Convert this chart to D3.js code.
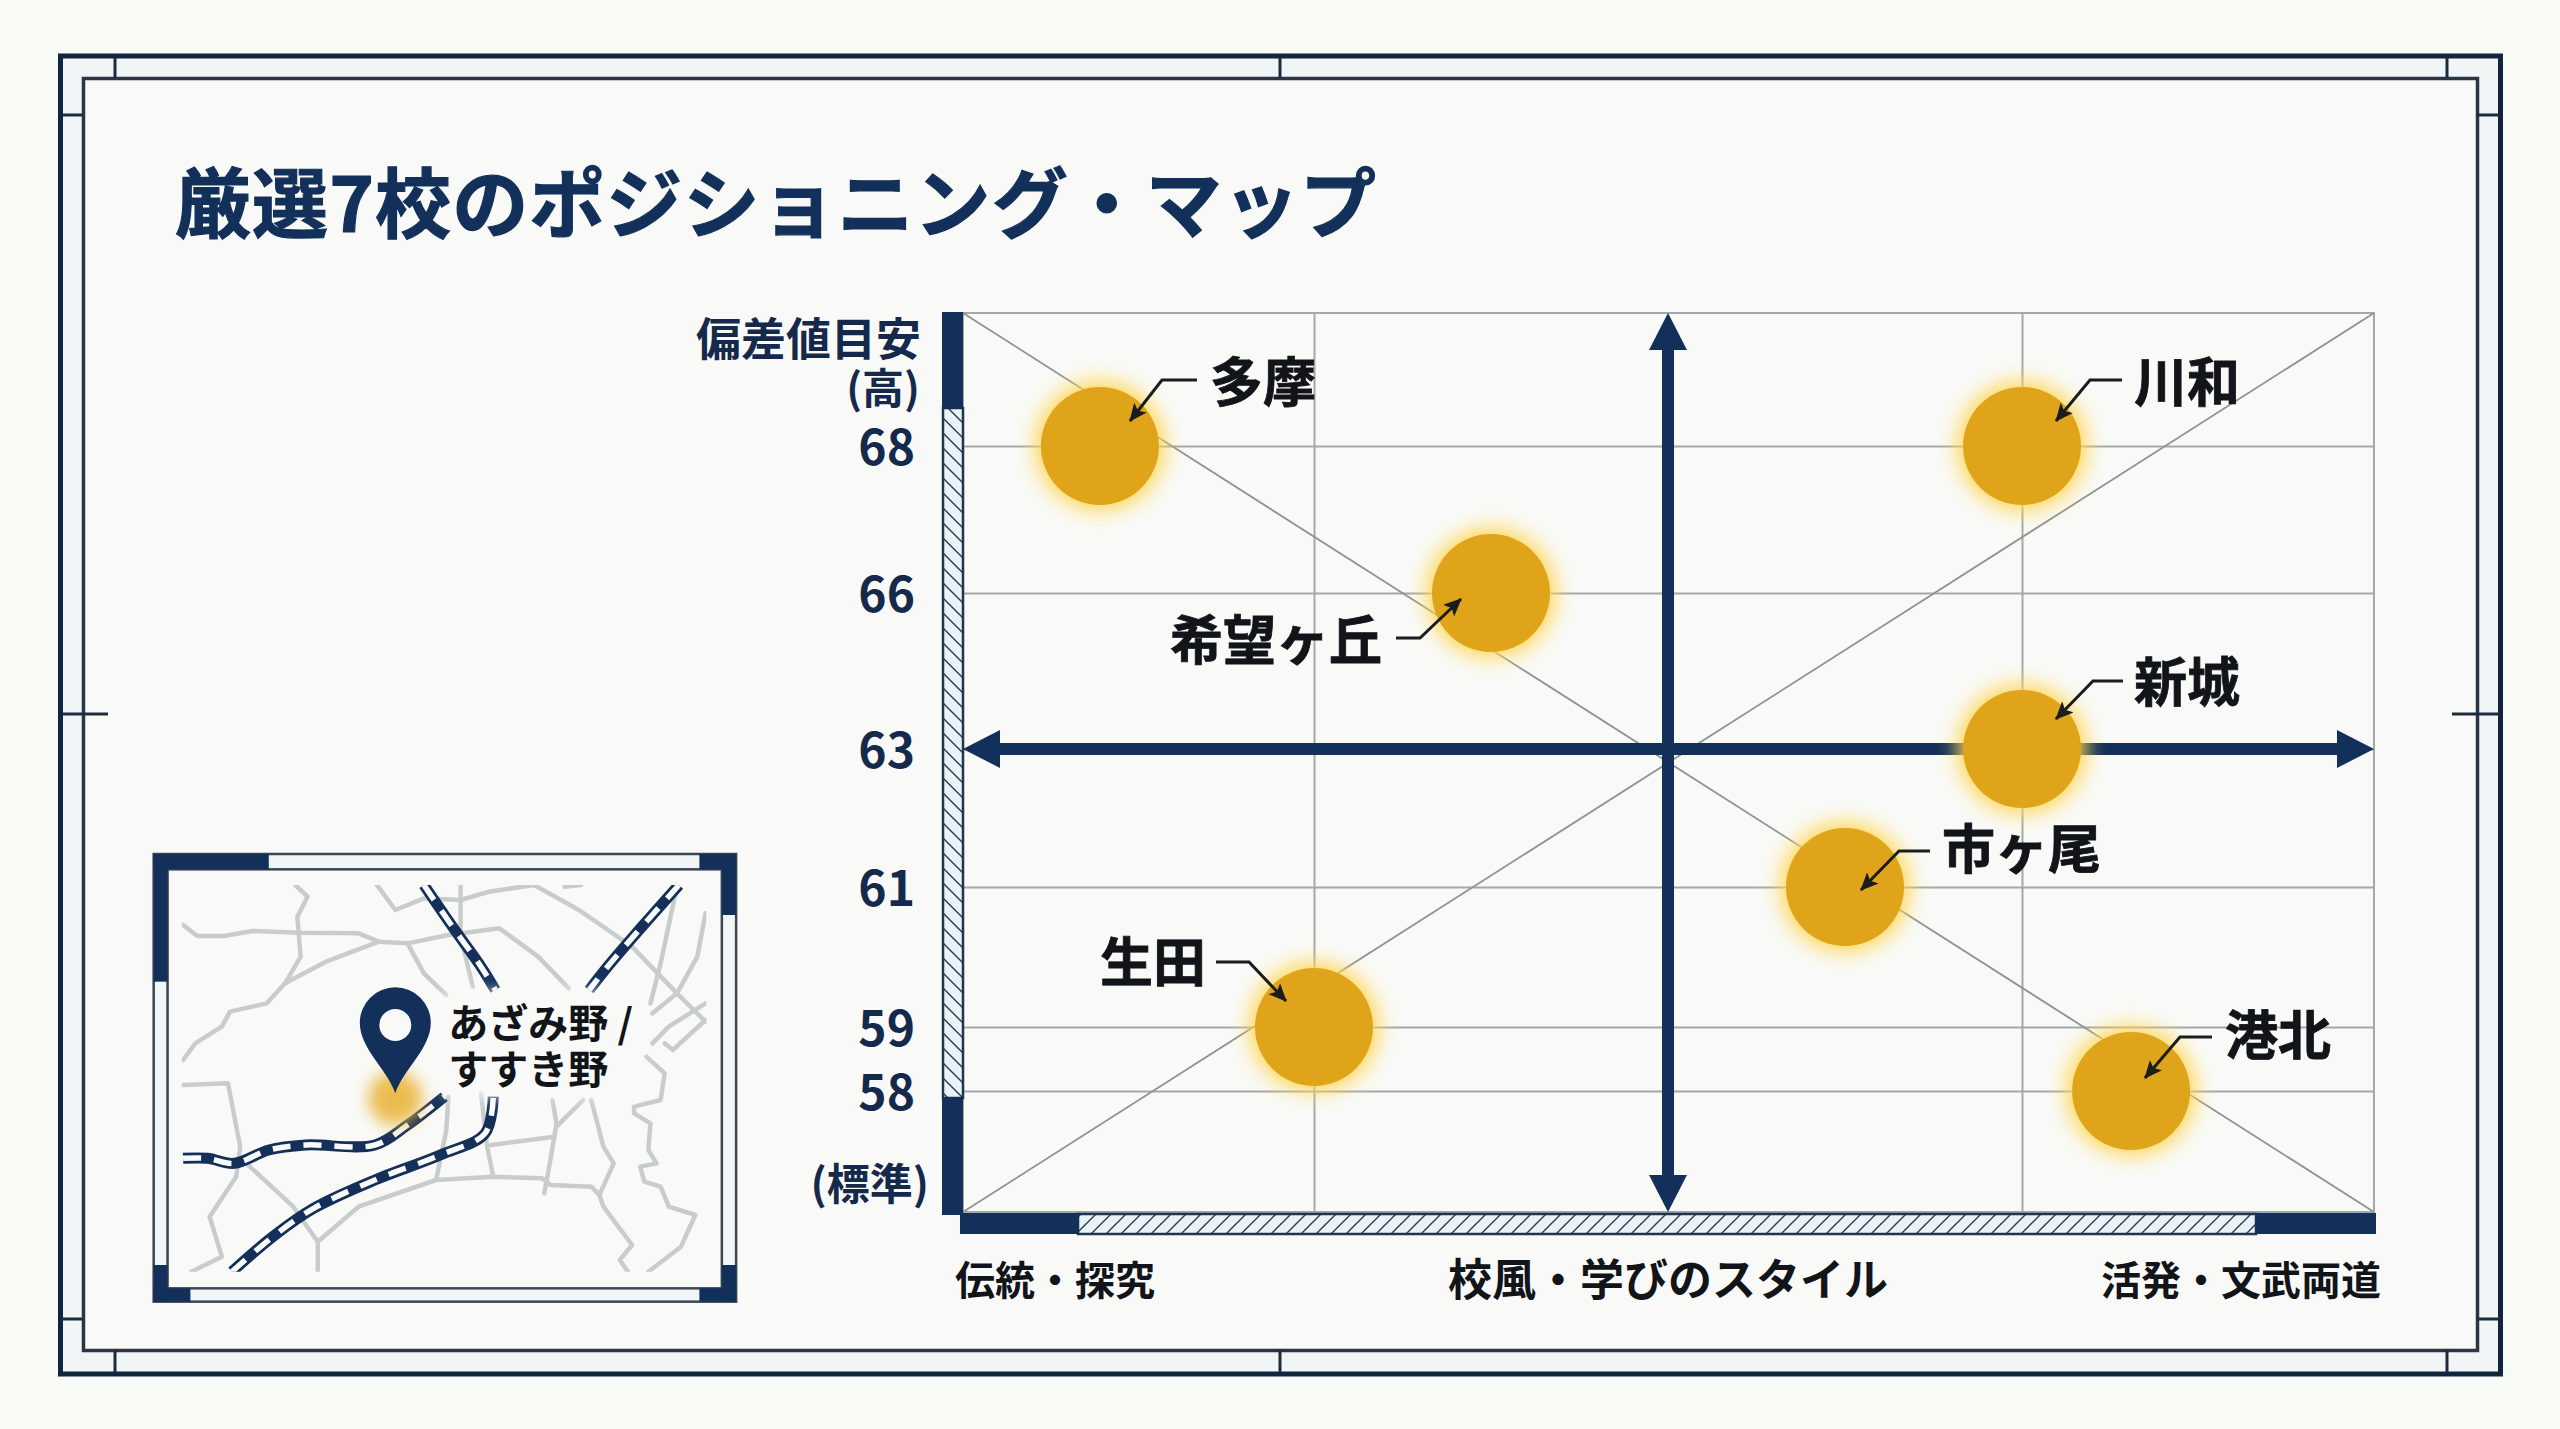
<!DOCTYPE html>
<html lang="ja">
<head>
<meta charset="utf-8">
<script src="https://cdnjs.cloudflare.com/ajax/libs/d3/7.8.5/d3.min.js"></script>
<style>
html,body{margin:0;padding:0;background:#f8faf6;}
svg{display:block;}
text{font-family:"Noto Sans CJK JP","Noto Sans",sans-serif;}
</style>
</head>
<body>
<svg id="c" width="2560" height="1429"></svg>
<script>
// ---- data ----
const titleText = "厳選7校のポジショニング・マップ";
const schools = ["多摩","希望ヶ丘","川和","新城","市ヶ尾","生田","港北"];
const styleValues = [-3.22,-1,2,2,1,-2,2.62];
const devValues = [68,66,68,63,61,59,58];
const yTicks = [68,66,63,61,59,58];
const yTickPixels = [446,593,749,887,1027,1091];
const xStops = [-4,-2,0,2,4];
const xStopPixels = [963,1314,1668,2022,2374];
const xGridValues = [-2,2];
const xLabels = ["伝統・探究","校風・学びのスタイル","活発・文武両道"];
const yLabels = ["偏差値目安","(高)","(標準)"];
const mapLabels = ["あざみ野 /","すすき野"];

// label placement per school (annotation layout)
const labelX = [1210,1382,2134,2134,1942,1206,2225];
const labelAnchor = ["start","end","start","start","start","end","start"];
const labelY = [379,637,379,679,846,959,1032];
const leaderPts = [
 [[1197,380],[1162,380],[1130,421]],
 [[1396,638],[1420,638],[1461,599]],
 [[2122,380],[2090,380],[2056,421]],
 [[2123,681],[2093,681],[2056,719]],
 [[1930,851],[1899,851],[1861,890]],
 [[1216,962],[1249,962],[1286,1001]],
 [[2212,1037],[2180,1037],[2145,1078]]
];

// map decoration, in map units
const roads = [
 [[130,285],[165,318],[230,318],[300,303],[415,308],[560,310],[610,335],[680,340],[780,315],[905,295],[1000,380],[1075,475]],
 [[405,165],[435,200],[410,260],[418,380],[380,460],[335,520],[245,545],[225,590],[160,640],[130,690]],
 [[380,460],[480,395],[610,335]],
 [[680,340],[720,430],[775,495]],
 [[605,165],[650,240],[720,205],[810,210],[880,185],[990,165]],
 [[810,165],[810,320],[840,470]],
 [[990,165],[1100,240],[1230,350],[1340,490],[1410,575]],
 [[1340,170],[1300,400],[1275,520]],
 [[1410,250],[1390,380],[1340,490],[1280,550]],
 [[1410,520],[1320,590],[1280,640]],
 [[1410,570],[1330,660],[1310,640]],
 [[1065,170],[1105,165]],
 [[1265,680],[1310,730],[1300,810],[1235,830],[1235,850],[1275,880],[1270,960],[1290,1000],[1250,1010],[1260,1055],[1300,1070],[1320,1130],[1385,1155],[1350,1250],[1270,1325]],
 [[130,765],[240,760],[270,950],[260,1040],[195,1160],[225,1280],[150,1325]],
 [[285,1000],[400,1130],[460,1235],[460,1325]],
 [[460,1235],[560,1130],[750,1050],[890,1040],[1010,1045],[1030,1065],[1130,1070],[1150,1095],[1160,1130],[1230,1245],[1200,1290],[1220,1325]],
 [[780,800],[775,900],[750,1050]],
 [[860,790],[875,950],[890,1040]],
 [[885,945],[1040,920]],
 [[1035,810],[1045,880],[1030,990],[1015,1090]],
 [[1110,810],[1045,890]],
 [[1130,810],[1160,950],[1185,1000],[1150,1095]]
];
const rails = [
 [[720,165],[790,290],[860,410],[895,480]],
 [[1345,165],[1240,310],[1170,410],[1125,480]],
 [[130,985],[190,985],[255,1000],[340,960],[430,945],[600,945],[680,885],[770,800]],
 [[250,1325],[350,1220],[450,1135],[600,1050],[760,975],[870,910],[890,800]]
];

// ---- constants ----
const NAVY="#12305a", INK="#111418", GRID="#a3a8aa", BG="#f9faf7", BAND="#f1f5f6";
const P={l:963,r:2374,t:313,b:1212};
const svg=d3.select("#c");
const x=d3.scaleLinear().domain(xStops).range(xStopPixels);
const y=d3.scaleLinear().domain(yTicks).range(yTickPixels);
const mx=d3.scaleLinear().domain([0,1568]).range([130,770]);
const my=d3.scaleLinear().domain([0,1470]).range([830,1320]);

// ---- defs ----
const defs=svg.append("defs");
function hatch(id,path){
  const p=defs.append("pattern").attr("id",id).attr("patternUnits","userSpaceOnUse").attr("width",15).attr("height",15);
  p.append("rect").attr("width",15).attr("height",15).attr("fill","#e9f2f6");
  p.append("path").attr("d",path).attr("stroke","#2a3a4c").attr("stroke-width",1.4).attr("fill","none");
}
hatch("hl","M-2,-2L17,17M-2,13L2,17M13,-2L17,2");
hatch("hb","M-2,17L17,-2M-2,2L2,-2M13,17L17,13");
const f=defs.append("filter").attr("id","glow").attr("x","-50%").attr("y","-50%").attr("width","200%").attr("height","200%");
f.append("feGaussianBlur").attr("stdDeviation",10);
const f2=defs.append("filter").attr("id","soft").attr("x","-30%").attr("y","-30%").attr("width","160%").attr("height","160%");
f2.append("feGaussianBlur").attr("stdDeviation",8);
const f3=defs.append("filter").attr("id","soft2").attr("x","-60%").attr("y","-60%").attr("width","220%").attr("height","220%");
f3.append("feGaussianBlur").attr("stdDeviation",8);
defs.append("marker").attr("id","arr").attr("markerUnits","userSpaceOnUse").attr("markerWidth",24).attr("markerHeight",20)
  .attr("refX",17).attr("refY",8).attr("orient","auto")
  .append("path").attr("d","M0,0L18,8L0,16L4,8Z").attr("fill","#1a1c1e");
defs.append("clipPath").attr("id","mapclip").append("rect")
  .attr("x",mx(127)).attr("y",my(165)).attr("width",mx(1412)-mx(127)).attr("height",my(1325)-my(165));

// ---- background and frame ----
svg.append("rect").attr("width",2560).attr("height",1429).attr("fill","#f8faf6");
svg.append("rect").attr("x",60.5).attr("y",56).attr("width",2440).attr("height",1318)
  .attr("fill",BAND).attr("stroke","#10253f").attr("stroke-width",5);
svg.append("rect").attr("x",83.5).attr("y",78.5).attr("width",2394).attr("height",1272)
  .attr("fill",BG).attr("stroke","#2a3644").attr("stroke-width",3.5);
const frameTicks=[
 [115,58,115,78],[2447,58,2447,78],[115,1350,115,1373],[2447,1350,2447,1373],
 [62,115,83,115],[2477,115,2499,115],[62,1319,83,1319],[2477,1319,2499,1319],
 [1280,58,1280,78],[1280,1350,1280,1373],[62,714,108,714],[2452,714,2499,714]
];
svg.append("g").selectAll("line").data(frameTicks).join("line")
  .attr("x1",d=>d[0]).attr("y1",d=>d[1]).attr("x2",d=>d[2]).attr("y2",d=>d[3])
  .attr("stroke","#1c2c3e").attr("stroke-width",3);

// ---- title ----
svg.append("text").attr("x",175).attr("y",232).attr("font-size",76).attr("font-weight",700)
  .attr("fill",NAVY).attr("stroke",NAVY).attr("stroke-width",1.2)
  .attr("textLength",1201).attr("lengthAdjust","spacing").text(titleText);

// ---- grid and axes ----
const yAxis=d3.axisLeft(y).tickValues(yTicks).tickSize(-(P.r-P.l)).tickPadding(48).tickFormat(d3.format("d"));
const gy=svg.append("g").attr("transform",`translate(${P.l},0)`).call(yAxis);
gy.select(".domain").remove();
gy.selectAll("line").attr("stroke",GRID).attr("stroke-width",2);
gy.selectAll("text").attr("font-size",48).attr("font-weight",700).attr("fill","#14294b").attr("dy","0.385em")
  .style("font-family",'"Noto Sans CJK JP"');
const xAxis=d3.axisBottom(x).tickValues(xGridValues).tickSize(-(P.b-P.t)).tickFormat("");
const gx=svg.append("g").attr("transform",`translate(0,${P.b})`).call(xAxis);
gx.select(".domain").remove();
gx.selectAll("line").attr("stroke",GRID).attr("stroke-width",2);
svg.append("rect").attr("x",P.l).attr("y",P.t).attr("width",P.r-P.l).attr("height",P.b-P.t)
  .attr("fill","none").attr("stroke",GRID).attr("stroke-width",2);
svg.append("g").selectAll("line").data([[P.l,P.t,P.r,P.b],[P.l,P.b,P.r,P.t]]).join("line")
  .attr("x1",d=>d[0]).attr("y1",d=>d[1]).attr("x2",d=>d[2]).attr("y2",d=>d[3])
  .attr("stroke","#8d9294").attr("stroke-width",1.8);

// ---- side bars ----
function bar(xx,yy,w,h,fill){
  svg.append("rect").attr("x",xx).attr("y",yy).attr("width",w).attr("height",h).attr("fill",fill)
    .attr("stroke",fill===NAVY?"none":"#1f3550").attr("stroke-width",fill===NAVY?0:2.5);
}
bar(943,408,20,690,"url(#hl)");
bar(942,312,21,97,NAVY);
bar(942,1097,21,118,NAVY);
bar(1078,1214,1178,20,"url(#hb)");
bar(960,1213,119,21,NAVY);
bar(2256,1213,120,21,NAVY);

// ---- quadrant arrows ----
const cx=x(0), cy=y(63), AH=37, AW=19;
const arrowLine=svg.append("g");
arrowLine.append("line").attr("x1",P.l+20).attr("x2",P.r-20).attr("y1",cy).attr("y2",cy).attr("stroke",NAVY).attr("stroke-width",12);
arrowLine.append("line").attr("x1",cx).attr("x2",cx).attr("y1",P.t+20).attr("y2",P.b-20).attr("stroke",NAVY).attr("stroke-width",12);
const heads=[
 [[P.l,cy],[P.l+AH,cy-AW],[P.l+AH,cy+AW]],
 [[P.r,cy],[P.r-AH,cy-AW],[P.r-AH,cy+AW]],
 [[cx,P.t],[cx-AW,P.t+AH],[cx+AW,P.t+AH]],
 [[cx,P.b],[cx-AW,P.b-AH],[cx+AW,P.b-AH]]
];
arrowLine.selectAll("path").data(heads).join("path")
  .attr("d",d=>"M"+d.join("L")+"Z").attr("fill",NAVY);

// ---- points ----
const R=59;
const idx=d3.range(schools.length);
svg.append("g").selectAll("circle").data(idx).join("circle")
  .attr("cx",i=>x(styleValues[i])).attr("cy",i=>y(devValues[i])).attr("r",R+6)
  .attr("fill","#ffd653").attr("opacity",0.95).attr("filter","url(#glow)");
svg.append("g").selectAll("circle").data(idx).join("circle")
  .attr("cx",i=>x(styleValues[i])).attr("cy",i=>y(devValues[i])).attr("r",R)
  .attr("fill","#e0a41a");
svg.append("g").selectAll("path").data(idx).join("path")
  .attr("d",i=>d3.line()(leaderPts[i])).attr("fill","none")
  .attr("stroke","#1a1c1e").attr("stroke-width",3).attr("marker-end","url(#arr)");
svg.append("g").selectAll("text").data(idx).join("text")
  .attr("x",i=>labelX[i]).attr("y",i=>labelY[i]).attr("text-anchor",i=>labelAnchor[i])
  .attr("dominant-baseline","central").attr("font-size",53).attr("font-weight",700)
  .attr("fill",INK).attr("stroke",INK).attr("stroke-width",0.8).text(i=>schools[i]);

// ---- axis captions ----
svg.append("text").attr("x",921).attr("y",356).attr("text-anchor","end").attr("font-size",45).attr("font-weight",700).attr("fill","#14294b").text(yLabels[0]);
svg.append("text").attr("x",920).attr("y",404).attr("text-anchor","end").attr("font-size",42).attr("font-weight",700).attr("fill","#14294b").text(yLabels[1]);
svg.append("text").attr("x",929).attr("y",1200).attr("text-anchor","end").attr("font-size",43).attr("font-weight",700).attr("fill","#14294b").text(yLabels[2]);
svg.append("text").attr("x",955).attr("y",1295).attr("font-size",40).attr("font-weight",700).attr("fill",INK).text(xLabels[0]);
svg.append("text").attr("x",cx).attr("y",1296).attr("text-anchor","middle").attr("font-size",44).attr("font-weight",700).attr("fill",INK).text(xLabels[1]);
svg.append("text").attr("x",2381).attr("y",1295).attr("text-anchor","end").attr("font-size",40).attr("font-weight",700).attr("fill",INK).text(xLabels[2]);

// ---- map inset ----
const m=svg.append("g");
m.append("rect").attr("x",mx(58)).attr("y",my(72)).attr("width",mx(1485)-mx(58)).attr("height",my(1415)-my(72))
  .attr("fill",BAND).attr("stroke","#3a4652").attr("stroke-width",2.5);
m.append("rect").attr("x",mx(92)).attr("y",my(118)).attr("width",mx(1450)-mx(92)).attr("height",my(1375)-my(118))
  .attr("fill",BG).attr("stroke","#3a4652").attr("stroke-width",2.5);
const corners=[
 [58,72,340,118],[58,72,92,455],[1395,72,1485,118],[1450,72,1485,255],
 [58,1375,148,1415],[58,1305,92,1415],[1395,1375,1485,1415],[1450,1305,1485,1415]
];
m.selectAll("rect.k").data(corners).join("rect").attr("class","k")
  .attr("x",d=>mx(d[0])).attr("y",d=>my(d[1])).attr("width",d=>mx(d[2])-mx(d[0])).attr("height",d=>my(d[3])-my(d[1]))
  .attr("fill",NAVY);
const mapG=m.append("g").attr("clip-path","url(#mapclip)");
const roadLine=d3.line().x(d=>mx(d[0])).y(d=>my(d[1]));
const mapLine=d3.line().x(d=>mx(d[0])).y(d=>my(d[1])).curve(d3.curveCatmullRom.alpha(0.5));
mapG.selectAll("path.road").data(roads).join("path").attr("class","road")
  .attr("d",roadLine).attr("fill","none").attr("stroke","#c8cccd").attr("stroke-width",4.5).attr("stroke-linejoin","round").attr("stroke-linecap","round");
mapG.selectAll("path.rc").data(rails).join("path").attr("class","rc")
  .attr("d",mapLine).attr("fill","none").attr("stroke","#14305a").attr("stroke-width",11);
mapG.selectAll("path.rd").data(rails).join("path").attr("class","rd")
  .attr("d",mapLine).attr("fill","none").attr("stroke","#f9fbfa").attr("stroke-width",5.5).attr("stroke-dasharray","18 13");
m.append("rect").attr("x",mx(775)).attr("y",my(490)).attr("width",mx(1240)-mx(775)).attr("height",my(795)-my(490))
  .attr("fill",BG).attr("filter","url(#soft)");
const pinX=mx(650), pinTop=my(472), pinTip=my(790), pinR=35.5, pinC=pinTop+pinR;
m.append("circle").attr("cx",pinX).attr("cy",my(805)).attr("r",27).attr("fill","#e8b132").attr("opacity",0.85).attr("filter","url(#soft2)");
const pin=d3.path();
pin.moveTo(pinX,pinTip);
pin.bezierCurveTo(pinX-8,pinTip-24,pinX-pinR,pinC+26,pinX-pinR,pinC);
pin.arc(pinX,pinC,pinR,Math.PI,0);
pin.bezierCurveTo(pinX+pinR,pinC+26,pinX+8,pinTip-24,pinX,pinTip);
pin.closePath();
m.append("path").attr("d",pin.toString()).attr("fill",NAVY);
m.append("circle").attr("cx",pinX).attr("cy",my(585)).attr("r",16).attr("fill",BG);
m.selectAll("text").data(mapLabels).join("text")
  .attr("x",mx(780)).attr("y",(d,i)=>i?1084:1038)
  .attr("font-size",40).attr("font-weight",700).attr("fill",INK).text(d=>d);
</script>
</body>
</html>
